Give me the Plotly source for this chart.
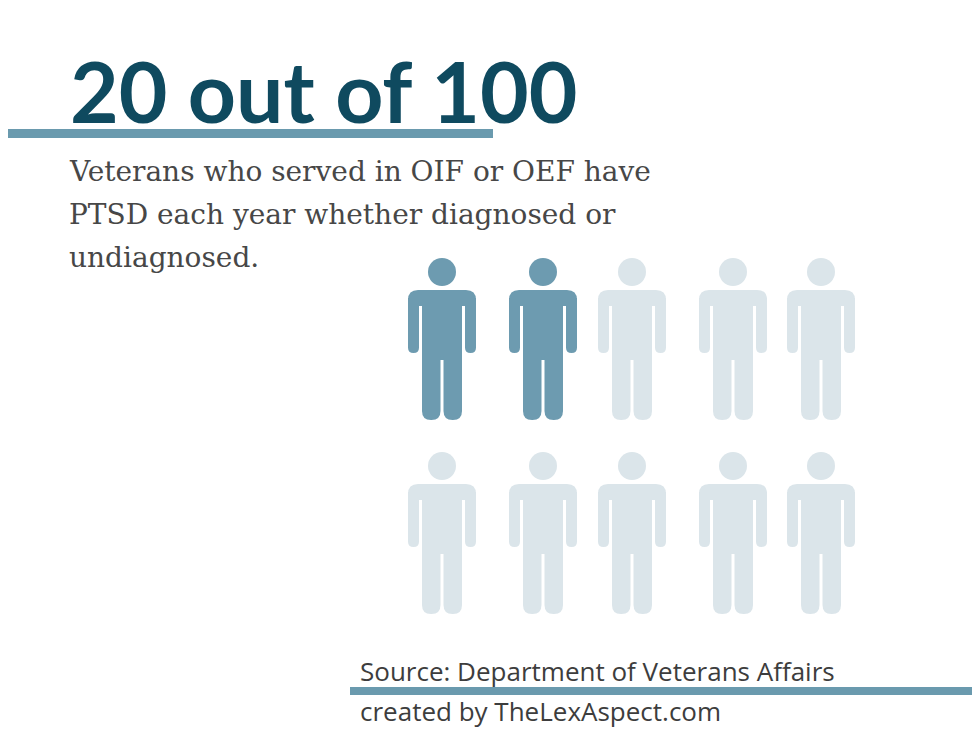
import plotly.graph_objects as go

# data
title_text = "20 out of 100"
subtitle_lines = ["Veterans who served in OIF or OEF have",
                  "PTSD each year whether diagnosed or",
                  "undiagnosed."]
source_text = "Source: Department of Veterans Affairs"
credit_text = "created by TheLexAspect.com"
person_affected = [1, 1, 0, 0, 0, 0, 0, 0, 0, 0]  # 2 of 10 icons = 20 of 100
col_centers = [442, 543, 632, 733, 821]
row_tops = [290, 484]

DARK = "#6d9bb0"
LIGHT = "#dbe5ea"

fig = go.Figure()
shapes = []

def rrect(x0, x1, y0, y1, rt, rb):
    return (f"M {x0+rt},{y0} L {x1-rt},{y0} Q {x1},{y0} {x1},{y0+rt} "
            f"L {x1},{y1-rb} Q {x1},{y1} {x1-rb},{y1} L {x0+rb},{y1} "
            f"Q {x0},{y1} {x0},{y1-rb} L {x0},{y0+rt} Q {x0},{y0} {x0+rt},{y0} Z")

for i, aff in enumerate(person_affected):
    cx = col_centers[i % 5]
    ty = row_tops[i // 5]
    c = DARK if aff else LIGHT
    def add(path):
        shapes.append(dict(type="path", path=path, xref="x", yref="y",
                           fillcolor=c, line=dict(width=0)))
    shapes.append(dict(type="circle", xref="x", yref="y", x0=cx-14, x1=cx+14,
                       y0=ty-32, y1=ty-4, fillcolor=c, line=dict(width=0)))
    add(rrect(cx-34, cx+34, ty, ty+16, 10, 0))
    add(rrect(cx-34, cx-23, ty+8, ty+63, 0, 5.5))
    add(rrect(cx+23, cx+34, ty+8, ty+63, 0, 5.5))
    add(rrect(cx-20, cx+20, ty+8, ty+70, 0, 0))
    add(rrect(cx-20, cx-1.5, ty+66, ty+130, 0, 9))
    add(rrect(cx+1.5, cx+20, ty+66, ty+130, 0, 9))

shapes.append(dict(type="rect", xref="x", yref="y", x0=-20, x1=493, y0=129, y1=138,
                   fillcolor="#6a9aae", line=dict(width=0)))
shapes.append(dict(type="rect", xref="x", yref="y", x0=350, x1=1000, y0=687, y1=695,
                   fillcolor="#6a9aae", line=dict(width=0)))

ann = [dict(x=68, y=90, text=f"<b>{title_text}</b>", xref="x", yref="y", showarrow=False,
            xanchor="left", yanchor="middle",
            font=dict(family="Lato", size=84, color="#0f4a5f"))]
for k, line in enumerate(subtitle_lines):
    ann.append(dict(x=67, y=171 + 43*k, text=line, xref="x", yref="y", showarrow=False,
                    xanchor="left", yanchor="middle",
                    font=dict(family="DejaVu Serif", size=28, color="#474747")))
ann.append(dict(x=358, y=671, text=source_text, xref="x", yref="y", showarrow=False,
                xanchor="left", yanchor="middle",
                font=dict(family="Open Sans", size=26, color="#3d3d3d")))
ann.append(dict(x=358, y=711, text=credit_text, xref="x", yref="y", showarrow=False,
                xanchor="left", yanchor="middle",
                font=dict(family="Open Sans", size=26, color="#3d3d3d")))

fig.update_layout(
    width=980, height=735, margin=dict(l=0, r=0, t=0, b=0),
    plot_bgcolor="white", paper_bgcolor="white",
    xaxis=dict(range=[8, 988], visible=False, fixedrange=True),
    yaxis=dict(range=[743, 8], visible=False, fixedrange=True),
    shapes=shapes, annotations=ann, showlegend=False,
)
fig.write_html("out.html")
